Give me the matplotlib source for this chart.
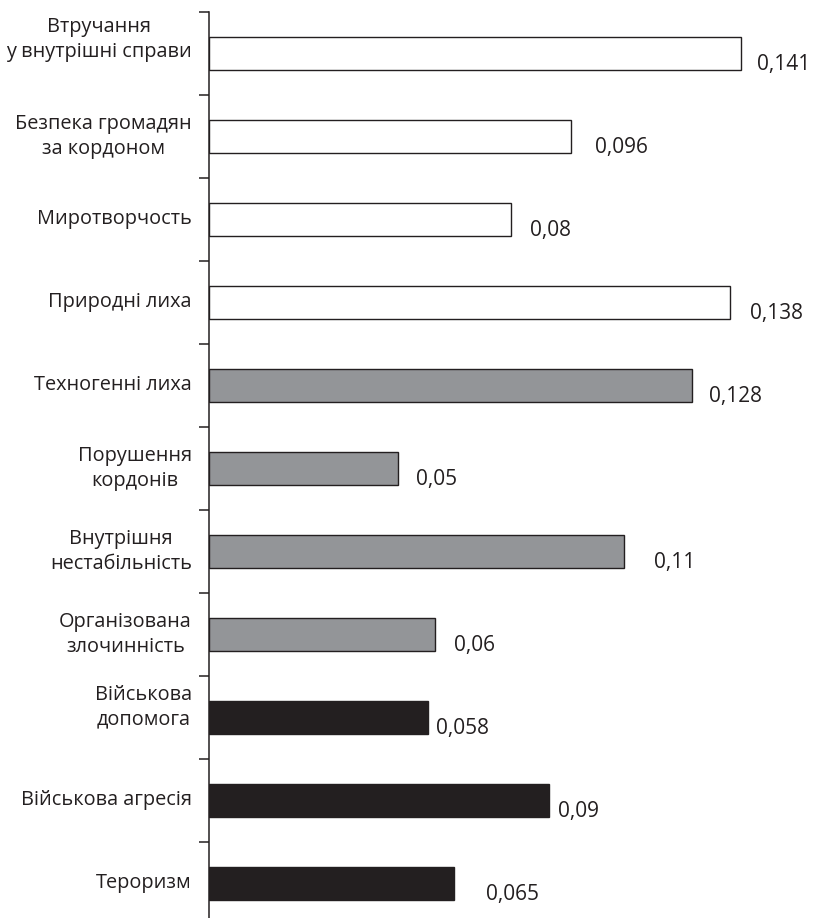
import matplotlib.pyplot as plt

plt.rcParams['font.family'] = ['Open Sans', 'DejaVu Sans']

# data
categories = [
    'Втручання\nу внутрішні справи',
    'Безпека громадян\nза кордоном',
    'Миротворчость',
    'Природні лиха',
    'Техногенні лиха',
    'Порушення\nкордонів',
    'Внутрішня\nнестабільність',
    'Організована\nзлочинність',
    'Військова\nдопомога',
    'Військова агресія',
    'Тероризм',
]
values = [0.141, 0.096, 0.08, 0.138, 0.128, 0.05, 0.11, 0.06, 0.058, 0.09, 0.065]
groups = ['white'] * 4 + ['gray'] * 4 + ['black'] * 3
value_labels = ['0,141', '0,096', '0,08', '0,138', '0,128', '0,05',
                '0,11', '0,06', '0,058', '0,09', '0,065']

# styling
fill = {'white': '#ffffff', 'gray': '#939598', 'black': '#231f20'}
edge = '#231f20'
label_dx = [16, 24, 19, 20, 17, 18, 30, 19, 8, 9, 32]   # px gap after bar end
cat_dy = [14, 0, 0, 0, 0, 0, 0, 0, 10, 0, 0]             # px shift up

fig = plt.figure(figsize=(8.16, 9.18), dpi=100)
ax = fig.add_axes([209 / 816, 0, 607 / 816, 906 / 918])

pos = list(range(len(values)))
ax.barh(pos, values, height=0.4, color=[fill[g] for g in groups],
        edgecolor=edge, linewidth=1.0)

ax.set_xlim(0, 607 / 3773)
ax.set_ylim(10.416, -0.5)

for i, (v, lab) in enumerate(zip(values, value_labels)):
    ax.annotate(lab, (v, i), xytext=(label_dx[i], -11), textcoords='offset pixels',
                ha='left', va='center', fontsize=15, color='#231f20')

for i, cat in enumerate(categories):
    ax.annotate(cat, (0, i), xytext=(-17, cat_dy[i]), textcoords='offset pixels',
                ha='right', va='center', multialignment='center',
                fontsize=14.3, color='#231f20', linespacing=1.3,
                annotation_clip=False)

ax.set_yticks([p - 0.5 for p in pos])
ax.set_yticklabels([])
ax.tick_params(axis='y', length=7, width=1.1, color='#231f20', direction='out')
ax.set_xticks([])

for s in ['top', 'right', 'bottom']:
    ax.spines[s].set_visible(False)
ax.spines['left'].set_color('#231f20')
ax.spines['left'].set_linewidth(1.1)

fig.savefig('out.png', dpi=100)
